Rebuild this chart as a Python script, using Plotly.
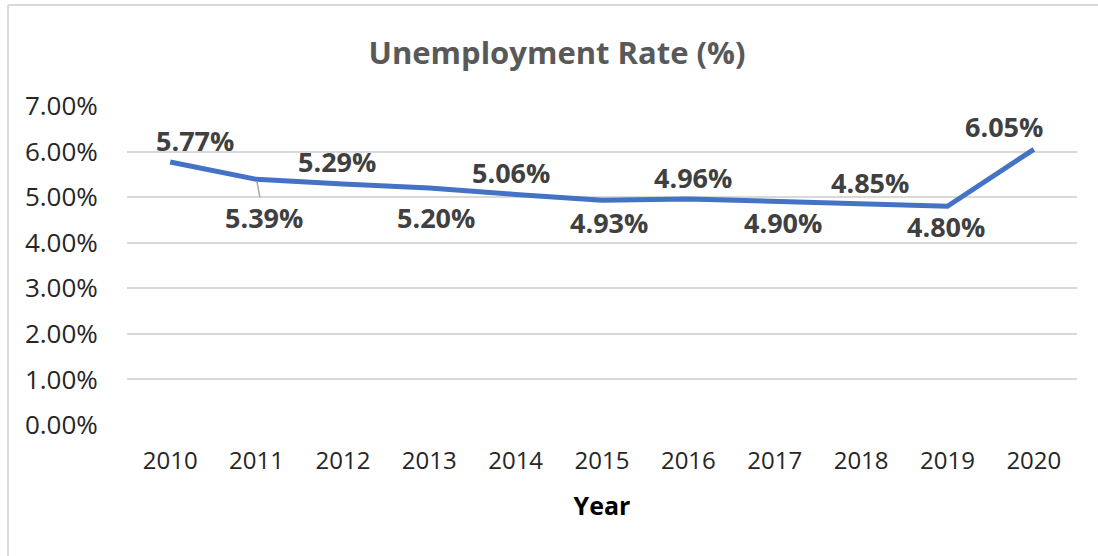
import plotly.graph_objects as go

years = ["2010", "2011", "2012", "2013", "2014", "2015", "2016", "2017", "2018", "2019", "2020"]
rates = [5.77, 5.39, 5.29, 5.20, 5.06, 4.93, 4.96, 4.90, 4.85, 4.80, 6.05]
y_ticks = [0, 1, 2, 3, 4, 5, 6, 7]
y_ticktext = [f"{t:.2f}%" for t in y_ticks]

# label placement offsets (pixels) to mimic the manually placed Excel labels
label_dx = [25, 7, -6, 7, -5, 7, 5, 8, 9, -1, -30]
label_dy = [22, -38, 22, -29, 22, -22, 21, -21, 21, -20, 23]

W, H = 1098, 556
L, R, T, B = 127, 21, 106, 131
pw, ph = W - L - R, H - T - B

xi = list(range(len(years)))

fig = go.Figure()
fig.add_trace(go.Scatter(
    x=xi, y=rates, mode="lines",
    line=dict(color="#4472C4", width=5),
    hoverinfo="skip", showlegend=False,
))

label_font = dict(family="Open Sans", size=27, color="#404040")
annotations = []
for i, v in enumerate(rates):
    txt = f"<b>{v:.2f}%</b>"
    if i == 1:
        annotations.append(dict(
            x=xi[i], y=v, xref="x", yref="y", text=txt,
            showarrow=True, arrowhead=0, arrowwidth=1.5, arrowcolor="#A6A6A6",
            ax=label_dx[i], ay=-label_dy[i], standoff=2,
            font=label_font,
        ))
    else:
        annotations.append(dict(
            x=xi[i], y=v, xref="x", yref="y", text=txt, showarrow=False,
            xshift=label_dx[i], yshift=label_dy[i],
            font=label_font,
        ))

fig.update_layout(
    width=W, height=H,
    margin=dict(l=L, r=R, t=T, b=B),
    paper_bgcolor="white", plot_bgcolor="white",
    title=dict(
        text="<b>Unemployment Rate (%)</b>",
        x=557 / W, xref="container", xanchor="center",
        y=1 - 53 / H, yref="container", yanchor="middle",
        font=dict(family="Open Sans", size=31, color="#595959"),
    ),
    xaxis=dict(
        range=[-0.5, len(years) - 0.5],
        tickvals=xi, ticktext=years,
        showgrid=False, zeroline=False, showline=False,
        ticks="outside", ticklen=14, tickcolor="rgba(0,0,0,0)",
        tickfont=dict(family="Open Sans", size=24, color="#262626"),
        title=dict(text="<b>Year</b>", standoff=22,
                   font=dict(family="Open Sans", size=25, color="black")),
    ),
    yaxis=dict(
        range=[0, 7], tickvals=y_ticks, ticktext=y_ticktext,
        showgrid=True, gridcolor="#D9D9D9", gridwidth=1.5,
        zeroline=False, showline=False,
        ticks="outside", ticklen=23, tickcolor="rgba(0,0,0,0)",
        tickfont=dict(family="Open Sans", size=26, color="#262626"),
    ),
    annotations=annotations,
    shapes=[
        dict(type="line", xref="paper", yref="paper",
             x0=(8 - L) / pw, x1=(W - L) / pw,
             y0=(H - B - 5) / ph, y1=(H - B - 5) / ph,
             line=dict(color="#D9D9D9", width=2)),
        dict(type="line", xref="paper", yref="paper",
             x0=(8 - L) / pw, x1=(8 - L) / pw,
             y0=(H - B - 5) / ph, y1=-B / ph,
             line=dict(color="#D9D9D9", width=2)),
    ],
)

fig.write_html("out.html")
